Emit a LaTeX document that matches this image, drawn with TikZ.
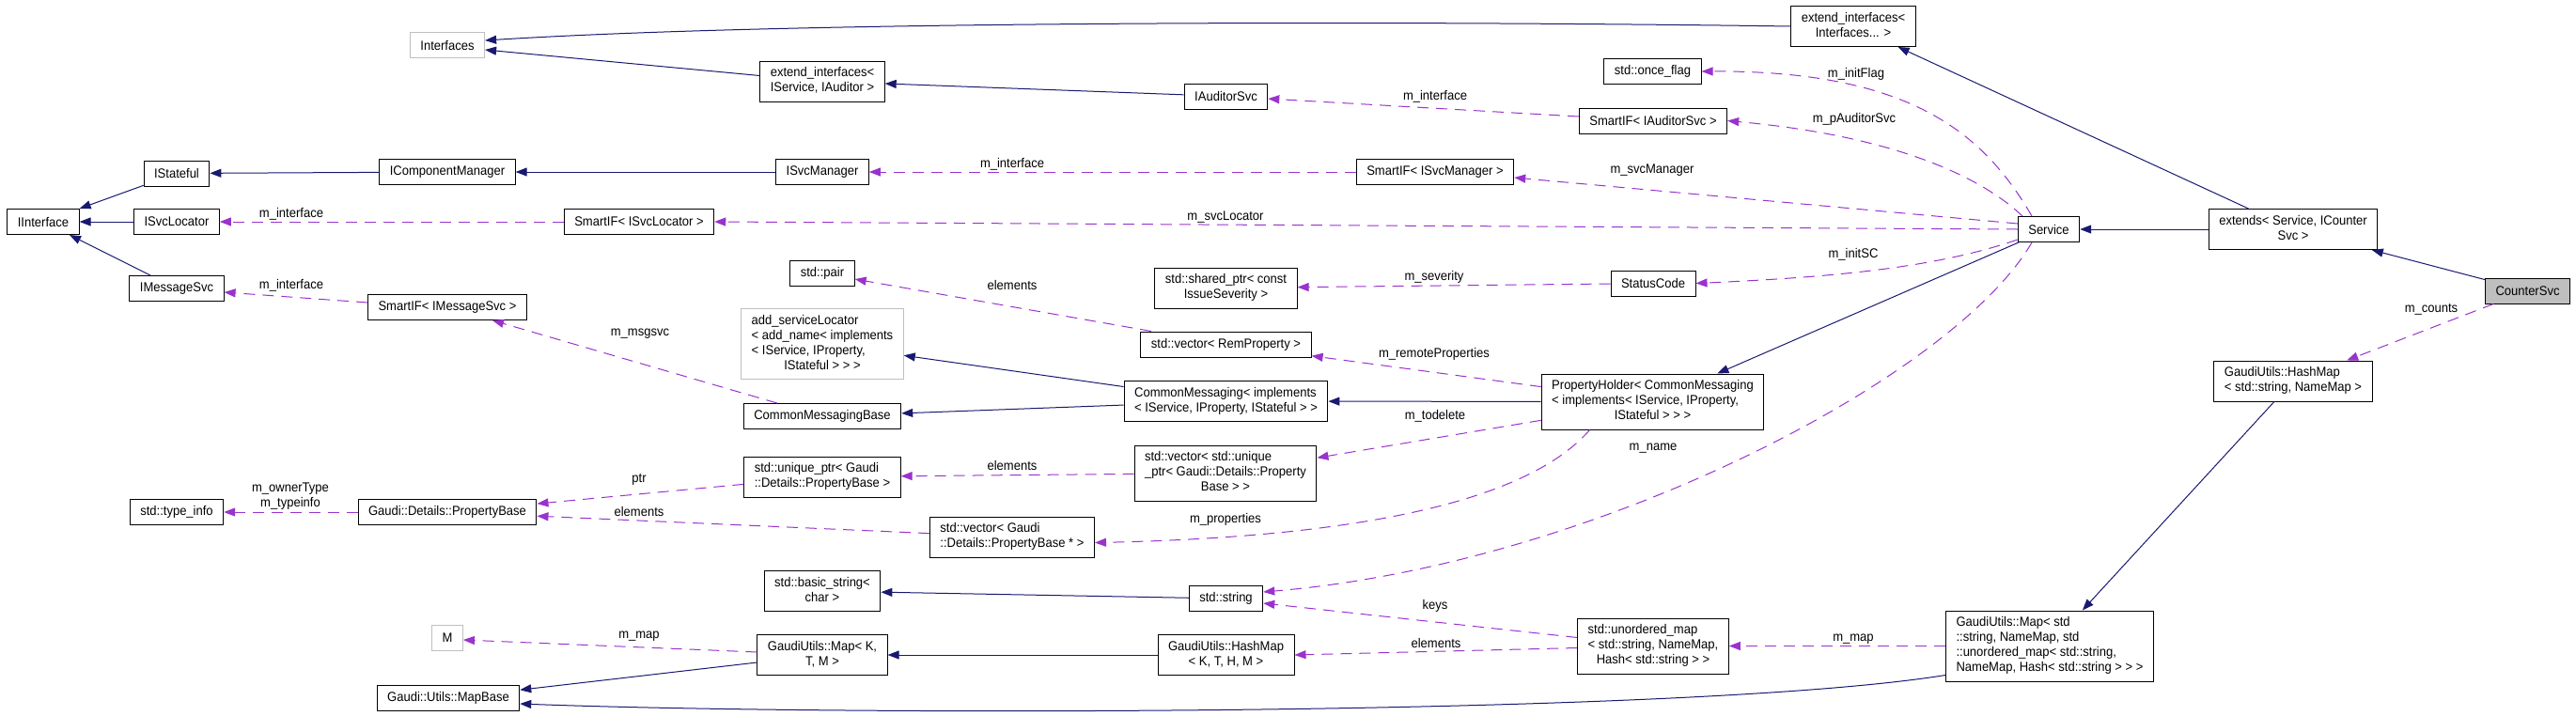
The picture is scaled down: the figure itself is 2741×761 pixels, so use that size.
\documentclass[tikz,border=0pt]{standalone}
\usepackage{fontspec}
\setmainfont{Liberation Sans}[FakeStretch=0.93]
\usetikzlibrary{arrows.meta}
\definecolor{inhblue}{HTML}{191970}
\definecolor{useorchid}{HTML}{9A32CD}
\definecolor{undocgray}{HTML}{BFBFBF}
% all lines left aligned but the last one, which is centred
\newcommand{\boxtext}[2]{\begin{tabular}{@{}l@{}}#1\\\multicolumn{1}{@{}c@{}}{#2}\end{tabular}}

\begin{document}
\begin{tikzpicture}[x=1pt, y=-1pt, font=\fontsize{14}{16}\selectfont]
  \tikzstyle{cnode} = [draw=black, line width=1pt, rectangle, inner xsep=11pt, inner ysep=5.5pt, minimum height=27pt]
  \tikzstyle{gnode} = [cnode, draw=undocgray]
  \tikzstyle{hnode} = [cnode, fill=undocgray]
  \tikzstyle{iedge} = [draw=inhblue, line width=1pt, -{Triangle[length=12pt,width=9pt]}]
  \tikzstyle{uedge} = [draw=useorchid, line width=1pt, dash pattern=on 12pt off 8pt, -{Triangle[length=12pt,width=9pt]}]
  \tikzstyle{elabel} = [inner sep=0pt, align=center]

  \useasboundingbox (0,0) rectangle (2741,761);

  \node[cnode] (iface) at (46,236) {IInterface};
  \node[cnode] (istateful) at (188,184.5) {IStateful};
  \node[cnode] (isvcloc) at (188,236) {ISvcLocator};
  \node[cnode] (imsgsvc) at (188,307) {IMessageSvc};
  \node[cnode] (typeinfo) at (188,545) {std::type\_info};

  \node[gnode] (interfaces) at (476,48) {Interfaces};
  \node[cnode] (icompmgr) at (476,183) {IComponentManager};
  \node[cnode] (smartmsg) at (476,327) {SmartIF< IMessageSvc >};
  \node[cnode] (propbase) at (476,545) {Gaudi::Details::PropertyBase};
  \node[gnode] (mnode) at (476,679) {M};
  \node[cnode] (mapbase) at (477,743) {Gaudi::Utils::MapBase};
  \node[cnode] (smartloc) at (680,236) {SmartIF< ISvcLocator >};

  \node[cnode] (extaud) at (875,86.5) {\boxtext{extend\_interfaces<}{IService, IAuditor >}};
  \node[cnode] (isvcmgr) at (875,183) {ISvcManager};
  \node[cnode] (stdpair) at (875,291) {std::pair};
  \node[gnode] (addsvc) at (875,366) {\boxtext{add\_serviceLocator\\< add\_name< implements\\< IService, IProperty,}{IStateful > > >}};
  \node[cnode] (cmbase) at (875,443) {CommonMessagingBase};
  \node[cnode] (uniqptr) at (875,507.5) {\boxtext{std::unique\_ptr< Gaudi}{::Details::PropertyBase >}};
  \node[cnode] (basicstr) at (875,629) {\boxtext{std::basic\_string<}{char >}};
  \node[cnode] (mapktm) at (875,697) {\boxtext{GaudiUtils::Map< K,}{T, M >}};
  \node[cnode] (vecprop) at (1077,571.5) {\boxtext{std::vector< Gaudi}{::Details::PropertyBase * >}};

  \node[cnode] (iaudsvc) at (1304.5,102.5) {IAuditorSvc};
  \node[cnode] (sharedptr) at (1304.5,306.5) {\boxtext{std::shared\_ptr< const}{IssueSeverity >}};
  \node[cnode] (vecrem) at (1304.5,366.5) {std::vector< RemProperty >};
  \node[cnode] (cmsg) at (1304.5,427) {\boxtext{CommonMessaging< implements}{< IService, IProperty, IStateful > >}};
  \node[cnode] (vecuniq) at (1304,503.5) {\boxtext{std::vector< std::unique\\\_ptr< Gaudi::Details::Property}{Base > >}};
  \node[cnode] (stdstr) at (1304.5,637) {std::string};
  \node[cnode] (hashktm) at (1304.5,697) {\boxtext{GaudiUtils::HashMap}{< K, T, H, M >}};
  \node[cnode] (smartmgr) at (1527,183) {SmartIF< ISvcManager >};

  \node[cnode] (onceflag) at (1758.5,76) {std::once\_flag};
  \node[cnode] (smartaud) at (1759,128.5) {SmartIF< IAuditorSvc >};
  \node[cnode] (statuscode) at (1759,301.5) {StatusCode};
  \node[cnode] (propholder) at (1758.5,427.5) {\boxtext{PropertyHolder< CommonMessaging\\< implements< IService, IProperty,}{IStateful > > >}};
  \node[cnode] (umap) at (1759,687.5) {\boxtext{std::unordered\_map\\< std::string, NameMap,}{Hash< std::string > >}};

  \node[cnode] (extifs) at (1972,28) {\boxtext{extend\_interfaces<}{Interfaces... >}};
  \node[cnode] (service) at (2180,244) {Service};
  \node[cnode] (mapstr) at (2181,687.5) {\boxtext{GaudiUtils::Map< std\\::string, NameMap, std\\::unordered\_map< std::string,}{NameMap, Hash< std::string > > >}};
  \node[cnode] (extends) at (2440,244) {\boxtext{extends< Service, ICounter}{Svc >}};
  \node[cnode] (hashstr) at (2440,405.5) {\boxtext{GaudiUtils::HashMap}{< std::string, NameMap >}};
  \node[hnode] (countersvc) at (2689.5,309.5) {CounterSvc};

  % inheritance
  \draw[iedge] (istateful) to (iface);
  \draw[iedge] (isvcloc) to (iface);
  \draw[iedge] (imsgsvc) to (iface);
  \draw[iedge] (icompmgr) to (istateful);
  \draw[iedge] (isvcmgr) to (icompmgr);
  \draw[iedge] ([yshift=6pt]extaud.west) to ([yshift=-5pt]interfaces.east);
  \draw[iedge] (extifs.west) .. controls (1500,22) and (850,22) .. ([yshift=5pt]interfaces.east);
  \draw[iedge] (iaudsvc) to (extaud);
  \draw[iedge] (extends) to (extifs);
  \draw[iedge] (extends) to (service);
  \draw[iedge] (countersvc) to (extends);
  \draw[iedge] (service) to (propholder);
  \draw[iedge] (propholder) to (cmsg);
  \draw[iedge] (cmsg) to (addsvc);
  \draw[iedge] (cmsg) to (cmbase);
  \draw[iedge] (stdstr) to (basicstr);
  \draw[iedge] (hashktm) to (mapktm);
  \draw[iedge] (mapktm) to (mapbase);
  \draw[iedge] (hashstr) to (mapstr);
  \draw[iedge] ([yshift=-31pt]mapstr.west) .. controls (1800,762) and (900,762) .. ([yshift=-6pt]mapbase.east);

  % members
  \draw[uedge] (smartloc) to (isvcloc);
  \draw[uedge] ([yshift=5pt]smartmsg.west) to ([yshift=-4pt]imsgsvc.east);
  \draw[uedge] (cmbase) to (smartmsg);
  \draw[uedge] (smartmgr) to (isvcmgr);
  \draw[uedge] (service.west) to (smartloc.east);
  \draw[uedge] (smartaud) to (iaudsvc);
  \draw[uedge] ([xshift=-18pt]service.north) .. controls (2110,140) and (2030,75) .. (onceflag.east);
  \draw[uedge] ([xshift=-28pt]service.north) .. controls (2110,190) and (2020,145) .. (smartaud.east);
  \draw[uedge] ([yshift=6pt]service.west) to ([yshift=-6pt]smartmgr.east);
  \draw[uedge] ([yshift=-11pt]service.west) .. controls (2060,285) and (1950,295) .. (statuscode.east);
  \draw[uedge] (statuscode) to (sharedptr);
  \draw[uedge] (vecrem) to (stdpair);
  \draw[uedge] (propholder) to (vecrem);
  \draw[uedge] (propholder) to (vecuniq);
  \draw[uedge] ([xshift=-67pt]propholder.south) .. controls (1620,540) and (1420,572) .. ([yshift=-6pt]vecprop.east);
  \draw[uedge] (vecuniq) to (uniqptr);
  \draw[uedge] (uniqptr) to (propbase);
  \draw[uedge] (vecprop) to (propbase);
  \draw[uedge] (propbase) to (typeinfo);
  \draw[uedge] ([xshift=-18pt]service.south) .. controls (2080,400) and (1700,600) .. ([yshift=7pt]stdstr.east);
  \draw[uedge] ([yshift=9pt]umap.west) to ([yshift=-5pt]stdstr.east);
  \draw[uedge] ([yshift=-2pt]umap.west) to (hashktm.east);
  \draw[uedge] (mapstr.west) to (umap.east);
  \draw[uedge] ([yshift=3pt]mapktm.west) to ([yshift=-2pt]mnode.east);
  \draw[uedge] (countersvc) to (hashstr);

  % edge labels
  \node[elabel] (lifloc) at (310,228) {m\_interface};
  \node[elabel] (lifmsg) at (310,304) {m\_interface};
  \node[elabel] (lmsgsvc) at (681,355) {m\_msgsvc};
  \node[elabel] (lifmgr) at (1077,175) {m\_interface};
  \node[elabel] (lsvcloc) at (1304,231) {m\_svcLocator};
  \node[elabel] (lifaud) at (1527,103) {m\_interface};
  \node[elabel] (linitflag) at (1975,79) {m\_initFlag};
  \node[elabel] (lpaud) at (1973,127) {m\_pAuditorSvc};
  \node[elabel] (lsvcmgr) at (1758,181) {m\_svcManager};
  \node[elabel] (linitsc) at (1972,271) {m\_initSC};
  \node[elabel] (lseverity) at (1526,295) {m\_severity};
  \node[elabel] (lpairel) at (1077,303) {elements};
  \node[elabel] (lremote) at (1526,377) {m\_remoteProperties};
  \node[elabel] (ltodelete) at (1527,443) {m\_todelete};
  \node[elabel] (lprops) at (1304,553) {m\_properties};
  \node[elabel] (luniqel) at (1077,495) {elements};
  \node[elabel] (lptr) at (680,510) {ptr};
  \node[elabel] (lpropel) at (680,544) {elements};
  \node[elabel] (ltype) at (309,528) {m\_ownerType\\m\_typeinfo};
  \node[elabel] (lname) at (1759,477) {m\_name};
  \node[elabel] (lkeys) at (1527,645) {keys};
  \node[elabel] (lhashel) at (1528,684) {elements};
  \node[elabel] (lmapstr) at (1972,680) {m\_map};
  \node[elabel] (lmapm) at (680,677) {m\_map};
  \node[elabel] (lcounts) at (2587,329) {m\_counts};
\end{tikzpicture}
\end{document}
